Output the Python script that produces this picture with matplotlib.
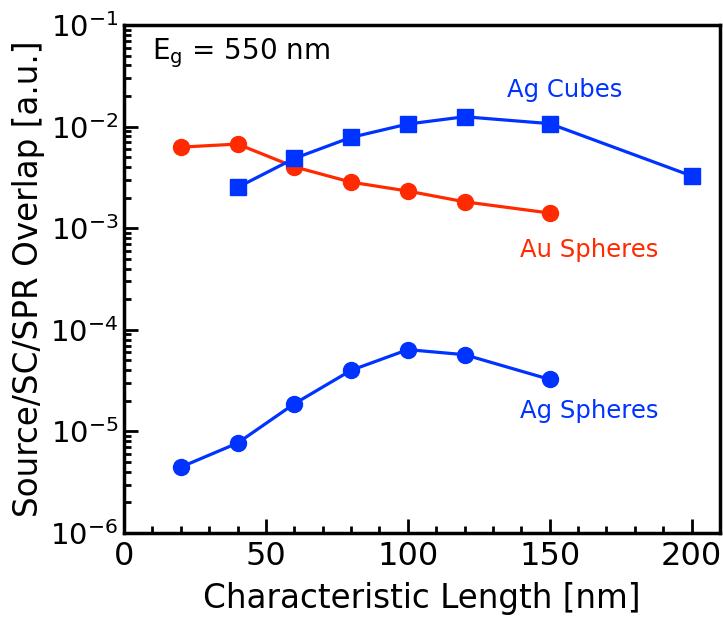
import numpy as np
import matplotlib
matplotlib.use("Agg")
import matplotlib.pyplot as plt
from matplotlib.ticker import LogLocator, FixedLocator, MultipleLocator, FuncFormatter

plt.rcParams['font.family'] = ['DejaVu Sans']
plt.rcParams['mathtext.fontset'] = 'dejavusans'

# data
au_x = [20, 40, 60, 80, 100, 120, 150]
au_y = [6.28e-3, 6.73e-3, 4.02e-3, 2.84e-3, 2.32e-3, 1.82e-3, 1.41e-3]

cube_x = [40, 60, 80, 100, 120, 150, 200]
cube_y = [2.52e-3, 4.86e-3, 7.83e-3, 1.06e-2, 1.25e-2, 1.07e-2, 3.27e-3]

agsph_x = [20, 40, 60, 80, 100, 120, 150]
agsph_y = [4.45e-6, 7.67e-6, 1.87e-5, 3.99e-5, 6.38e-5, 5.69e-5, 3.25e-5]

red = '#ff2a00'
blue = '#0033ff'

fig = plt.figure(figsize=(7.23, 6.21), dpi=100)
ax = fig.add_axes([124/723, 1-533/621, (720-124)/723, (533-25)/621])

ax.plot(au_x, au_y, '-o', color=red, lw=2.3, ms=11.5)
ax.plot(cube_x, cube_y, '-s', color=blue, lw=2.3, ms=11)
ax.plot(agsph_x, agsph_y, '-o', color=blue, lw=2.3, ms=11.5)

ax.set_yscale('log')
ax.set_xlim(0, 210)
ax.set_ylim(1e-6, 1e-1)

ax.xaxis.set_major_locator(FixedLocator([0, 50, 100, 150, 200]))
ax.xaxis.set_minor_locator(MultipleLocator(10))
ax.yaxis.set_major_locator(LogLocator(base=10, numticks=10))
ax.yaxis.set_minor_locator(LogLocator(base=10, subs=np.arange(2, 10), numticks=20))
ax.yaxis.set_major_formatter(FuncFormatter(lambda v, p: r'$\mathregular{10^{%d}}$' % int(round(np.log10(v)))))
ax.yaxis.set_minor_formatter(FuncFormatter(lambda v, p: ''))

ax.tick_params(which='both', direction='in', top=False, right=False, width=2)
ax.tick_params(which='major', length=10, pad=6)
ax.tick_params(which='minor', length=5)
ax.tick_params(axis='x', labelsize=23)
ax.tick_params(axis='y', labelsize=21, pad=4)
for s in ax.spines.values():
    s.set_linewidth(2.5)

ax.set_xlabel('Characteristic Length [nm]', fontsize=23.5, labelpad=7)
ax.set_ylabel('Source/SC/SPR Overlap [a.u.]', fontsize=23.5, labelpad=4)

ax.text(10, 5.3e-2, r'E$_\mathregular{g}$ = 550 nm', fontsize=20, va='center', ha='left')
ax.text(155.3, 2.29e-2, 'Ag Cubes', color=blue, fontsize=17.5, ha='center', va='center')
ax.text(164, 6.07e-4, 'Au Spheres', color=red, fontsize=17.5, ha='center', va='center')
ax.text(164, 1.57e-5, 'Ag Spheres', color=blue, fontsize=17.5, ha='center', va='center')

fig.savefig('out.png', dpi=100)
